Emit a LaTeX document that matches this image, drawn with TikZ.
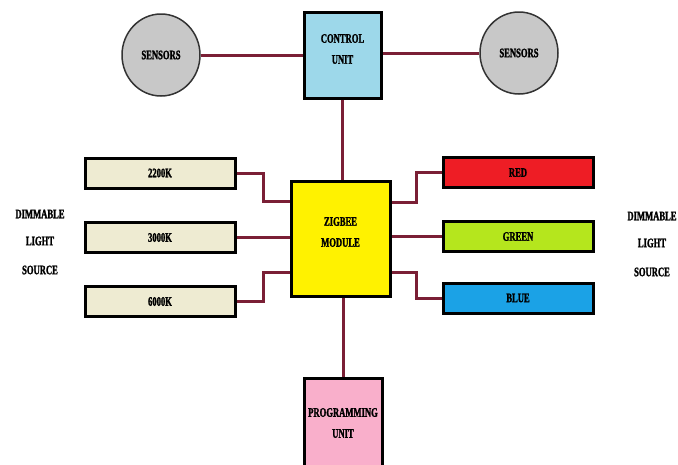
\documentclass[tikz,border=0pt]{standalone}
\usepackage{fontspec}
\setmainfont{Liberation Serif}[FakeStretch=0.66, BoldFeatures={FakeBold=1.6}]
\usetikzlibrary{shapes.geometric}
\definecolor{wire}{HTML}{7A1F35}
\definecolor{cublue}{HTML}{9DD8EA}
\definecolor{zyellow}{HTML}{FFF200}
\definecolor{beige}{HTML}{EEEBD2}
\definecolor{lred}{HTML}{EE1D25}
\definecolor{lgreen}{HTML}{B5E61D}
\definecolor{lblue}{HTML}{1BA2E6}
\definecolor{pink}{HTML}{F9AFCB}
\definecolor{sgray}{HTML}{C8C8C8}
\tikzset{
  lbl/.style={font=\fontsize{13}{21}\selectfont\bfseries, align=center},
  blk/.style={draw=black, line width=3pt, inner sep=0pt, lbl},
  sens/.style={ellipse, draw=black!80, line width=1.5pt, fill=sgray, minimum width=78pt, minimum height=82pt, inner sep=0pt, lbl},
  strip/.style={blk, minimum width=150pt, minimum height=30pt},
  wireline/.style={draw=wire, line width=3pt},
  txt/.style={lbl}
}
\begin{document}
\begin{tikzpicture}[x=1pt,y=-1pt]
\useasboundingbox (0,0) rectangle (678,464);
% connectors first (under boxes)
\coordinate (a1) at (263,201);
\coordinate (a2) at (263,272);
\coordinate (b1) at (416,202);
\coordinate (b2) at (416,272);
% nodes
\node[sens] (sl) at (161,55) {SENSORS};
\node[sens] (sr) at (519,53) {SENSORS};
\node[blk, fill=cublue, minimum width=77pt, minimum height=86pt] (cu) at (342.5,55) {};
\node[lbl] (cut) at (342.5,49) {CONTROL\\UNIT};
\node[blk, fill=zyellow, minimum width=99pt, minimum height=115pt] (zb) at (340.5,238.5) {};
\node[lbl] (zbt) at (340.5,232) {ZIGBEE\\MODULE};
\node[blk, fill=pink, minimum width=78pt, minimum height=90pt] (pu) at (343,423) {};
\node[lbl] (put) at (343,423) {PROGRAMMING\\UNIT};
\node[strip, fill=beige] (k22) at (160,173) {2200K};
\node[strip, fill=beige] (k30) at (160,237.5) {3000K};
\node[strip, fill=beige] (k60) at (160,301.5) {6000K};
\node[strip, fill=lred] (red) at (518,172.5) {RED};
\node[strip, fill=lgreen] (grn) at (518,236.5) {GREEN};
\node[strip, fill=lblue] (blu) at (518,298) {BLUE};
\node[txt] (dl1) at (40,214) {DIMMABLE};
\node[txt] (dl2) at (40,241) {LIGHT};
\node[txt] (dl3) at (40,270) {SOURCE};
\node[txt] (dr1) at (652,216) {DIMMABLE};
\node[txt] (dr2) at (652,243) {LIGHT};
\node[txt] (dr3) at (652,272) {SOURCE};
% connectors
\draw[wireline] (sl.east) -- (cu.west |- sl.east);
\draw[wireline] (sr.west) -- (cu.east |- sr.west);
\draw[wireline] (cu.south) -- (zb.north -| cu.south);
\draw[wireline] (zb.south -| pu.north) -- (pu.north);
\draw[wireline] (k22.east) -| (a1) -- (zb.west |- a1);
\draw[wireline] (k30.east) -- (zb.west |- k30.east);
\draw[wireline] (k60.east) -| (a2) -- (zb.west |- a2);
\draw[wireline] (red.west) -| (b1) -- (zb.east |- b1);
\draw[wireline] (grn.west) -- (zb.east |- grn.west);
\draw[wireline] (blu.west) -| (b2) -- (zb.east |- b2);
\end{tikzpicture}
\end{document}
